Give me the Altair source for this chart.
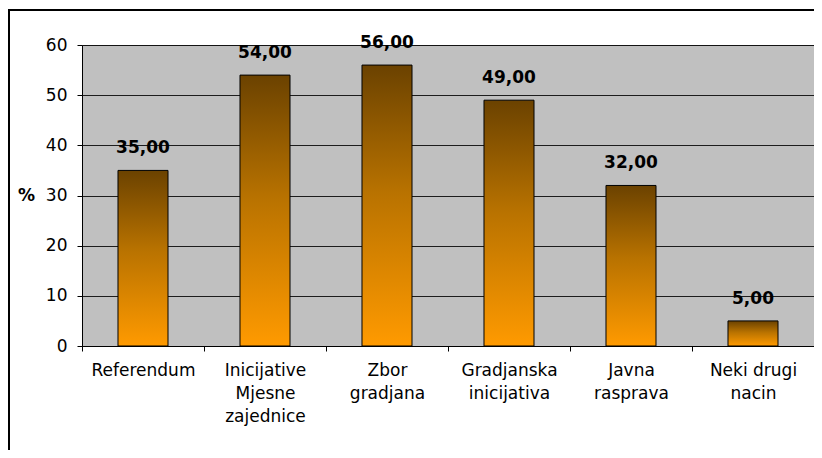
import altair as alt
import pandas as pd

categories = [
    "Referendum",
    "Inicijative\nMjesne\nzajednice",
    "Zbor\ngradjana",
    "Gradjanska\ninicijativa",
    "Javna\nrasprava",
    "Neki drugi\nnacin",
]
values = [35, 54, 56, 49, 32, 5]
y_ticks = [0, 10, 20, 30, 40, 50, 60]

FONT = "DejaVu Sans"
FS = 17

df = pd.DataFrame({"cat": categories, "val": values})

x_enc = alt.X(
    "cat:N",
    sort=categories,
    scale=alt.Scale(paddingInner=0, paddingOuter=0),
    axis=alt.Axis(
        title=None,
        labelAngle=0,
        labelExpr="split(datum.label, '\\n')",
        labelLineHeight=23,
        labelPadding=11,
        labelFontSize=FS,
        labelFont=FONT,
        labelColor="black",
        tickBand="extent",
        tickSize=5,
        tickColor="black",
        domainColor="black",
        grid=False,
    ),
)

y_enc = alt.Y(
    "val:Q",
    scale=alt.Scale(domain=[0, 60], nice=False),
    axis=alt.Axis(
        values=y_ticks,
        title="%",
        titleAngle=0,
        titleFont=FONT,
        titleFontSize=FS,
        titleFontWeight="bold",
        titleAlign="center",
        titleBaseline="middle",
        titleX=-56,
        titleY=150,
        labelFont=FONT,
        labelFontSize=FS,
        labelColor="black",
        labelPadding=10,
        tickSize=5,
        tickColor="black",
        domainColor="black",
        grid=True,
        gridColor="#000000",
        gridOpacity=0.85,
        gridWidth=1,
    ),
)

gradient = alt.Gradient(
    gradient="linear",
    stops=[
        alt.GradientStop(color="#6B4200", offset=0),
        alt.GradientStop(color="#B87200", offset=0.45),
        alt.GradientStop(color="#FF9A00", offset=1),
    ],
    x1=0, x2=0, y1=0, y2=1,
)

bars = alt.Chart(df).mark_bar(
    fill=gradient, stroke="black", strokeWidth=1,
    width=alt.RelativeBandSize(0.41),
).encode(x=x_enc, y=y_enc)

labels = alt.Chart(df).transform_calculate(
    lbl="replace(format(datum.val, '.2f'), '.', ',')"
).mark_text(
    dy=-17, baseline="alphabetic", fontWeight="bold", fontSize=FS, font=FONT, color="black"
).encode(x=alt.X("cat:N", sort=categories), y="val:Q", text="lbl:N")

border = alt.Chart(pd.DataFrame({"a": [0]})).mark_rect(
    fill=None, stroke="black", strokeWidth=2
).encode(
    x=alt.value(-73), x2=alt.value(760), y=alt.value(-35), y2=alt.value(430)
)

chart = alt.layer(border, bars, labels).properties(
    width=732,
    height=301,
    autosize=alt.AutoSizeParams(type="none"),
    padding={"left": 74, "top": 37, "right": 0, "bottom": 104},
    background="white",
).configure_view(
    fill="#C0C0C0", stroke="#808080", strokeWidth=1
)

chart.save("out.html", embed_options={"renderer": "svg", "actions": False})
